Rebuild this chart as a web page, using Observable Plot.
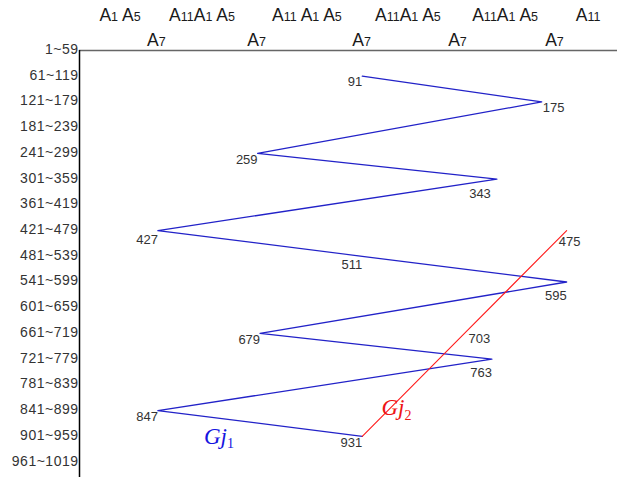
<!DOCTYPE html>
<html><head><meta charset="utf-8">
<script src="https://cdn.jsdelivr.net/npm/d3@7"></script>
<script src="https://cdn.jsdelivr.net/npm/@observablehq/plot@0.6"></script>
<style>body{margin:0;background:#fff}</style>
</head><body><div id="chart"></div>
<script>
// Row bands (60 numbers per row)
const bandLabels = ["1~59","61~119","121~179","181~239","241~299","301~359","361~419","421~479","481~539","541~599","601~659","661~719","721~779","781~839","841~899","901~959","961~1019"];
// Column header labels (digits after A are subscripts)
const topRow1Labels = ["A1 A5","A11A1 A5","A11 A1 A5","A11A1 A5","A11A1 A5","A11"];
const topRow1Columns = [0.48, 3.77, 7.98, 12.03, 15.93, 19.26];
const topRow2Labels = ["A7","A7","A7","A7","A7"];
const topRow2Columns = [1.94, 5.96, 10.17, 14.02, 17.91];
// Series Gj1 (blue) and Gj2 (red): values and their column positions
const gj1Values = [91,175,259,343,427,511,595,679,763,847,931];
const gj1Columns = [10.2,17.4,6.0,15.6,2.0,10.2,18.4,6.1,15.4,2.0,10.2];
const gj2Values = [931,703,475];
const gj2Columns = [10.2,14.3,18.4];
const seriesNames = ["Gj1","Gj2"];
const seriesLabelColumns = [4.45, 11.57];
const seriesLabelBands = [15.0, 13.9];

const xDomain = [-1.145, 20.44];
const yDomain = [0, 16.6];
const bandOf = v => Math.floor(v / 60);

const gj1 = gj1Values.map((v, i) => ({v, col: gj1Columns[i], band: bandOf(v)}));
const gj2 = gj2Values.map((v, i) => ({v, col: gj2Columns[i], band: bandOf(v)}));
const top1 = topRow1Labels.map((t, i) => ({t, col: topRow1Columns[i]}));
const top2 = topRow2Labels.map((t, i) => ({t, col: topRow2Columns[i]}));
const seriesLbl = seriesNames.map((t, i) => ({t, col: seriesLabelColumns[i], band: seriesLabelBands[i]}));

const BLUE = "#2222c8", RED = "#ff1a1a", NUM = "#333";
const pick = (data, vals) => data.filter(d => vals.includes(d.v));
const numText = (data, opts) => Plot.text(data, {x: "col", y: "band", text: d => String(d.v), fill: NUM, fontSize: 13, ...opts});

const chart = Plot.plot({
  width: 620, height: 477,
  marginLeft: 79, marginRight: 3, marginTop: 50, marginBottom: 0,
  style: {fontFamily: "'Liberation Sans', Arial, sans-serif", fontSize: "13px", color: "#333", background: "#fff"},
  x: {domain: xDomain, axis: null},
  y: {domain: yDomain, reverse: true, axis: null},
  marks: [
    Plot.axisY(d3.range(bandLabels.length), {anchor: "left", tickFormat: i => bandLabels[i], tickSize: 0, tickPadding: 1, fontSize: 14, dy: -1, label: null}),
    Plot.ruleY([yDomain[0]], {stroke: "#666", strokeWidth: 1.6}),
    Plot.ruleX([xDomain[0]], {stroke: "#000", strokeWidth: 1.5}),
    Plot.line(gj1, {x: "col", y: "band", stroke: BLUE, strokeWidth: 1.3}),
    Plot.line(gj2, {x: "col", y: "band", stroke: RED, strokeWidth: 1.1}),
    numText(pick(gj1, [91,259,679,847,931]), {textAnchor: "end", dy: 6}),
    numText(pick(gj1, [427,511]), {textAnchor: "end", dy: 9}),
    numText(pick(gj1, [175]), {textAnchor: "start", dx: 1, dy: 6}),
    numText(pick(gj1, [595,763]), {textAnchor: "end", dy: 14}),
    numText(pick(gj1, [343]), {textAnchor: "end", dx: -6, dy: 15}),
    numText(pick(gj2, [703]), {textAnchor: "start", dx: 4, dy: 5}),
    numText(pick(gj2, [475]), {textAnchor: "middle", dx: 3, dy: 11}),
    Plot.text(top1, {x: "col", frameAnchor: "top", lineAnchor: "middle", dy: -35, text: "t", fontSize: 17.5, fill: "#1a1a1a"}),
    Plot.text(top2, {x: "col", frameAnchor: "top", lineAnchor: "middle", dy: -10, text: "t", fontSize: 17.5, fill: "#1a1a1a"}),
    Plot.text(seriesLbl, {x: "col", y: "band", text: "t", fontSize: 23, fontStyle: "italic", fontFamily: "'Liberation Serif', 'Times New Roman', serif", fill: (d, i) => i === 0 ? "#1515e0" : "#ee1515"})
  ]
});

// letter spacing for the row labels
d3.select(chart).selectAll("text").filter(function() { return bandLabels.includes(this.textContent); }).attr("letter-spacing", "0.5");

function subscriptify(svg, labels, subSize, subDy, subStyle) {
  d3.select(svg).selectAll("text").filter(function() { return labels.includes(this.textContent); }).each(function() {
    const t = this.textContent;
    const el = d3.select(this);
    el.text(null);
    (t.match(/[^0-9]+|[0-9]+/g) || []).forEach(p => {
      const ts = el.append("tspan").text(p);
      if (/^[0-9]+$/.test(p)) {
        ts.attr("font-size", subSize);
        if (subDy) ts.attr("dy", subDy);
        if (subStyle) ts.attr("font-style", subStyle);
      }
    });
  });
}
subscriptify(chart, topRow1Labels.concat(topRow2Labels), 12.5, null, null);
subscriptify(chart, seriesNames, 14, "0.3em", "normal");
document.getElementById("chart").append(chart);
</script>
</body></html>
